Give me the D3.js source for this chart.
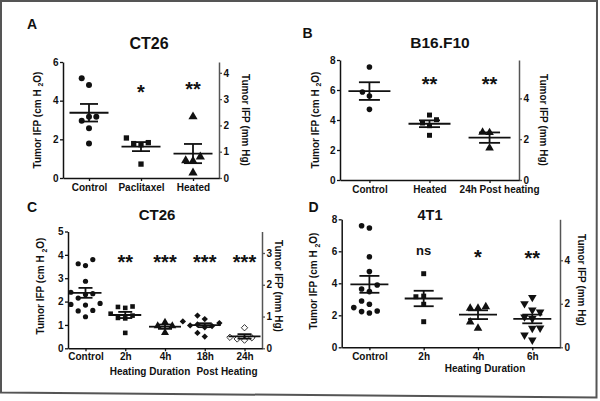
<!DOCTYPE html>
<html><head><meta charset="utf-8">
<script src="https://cdn.jsdelivr.net/npm/d3@7"></script>
<style>
body{margin:0;background:#fff;}
svg{display:block;font-family:"Liberation Sans",Arial,sans-serif;}
</style>
</head><body>
<svg id="chart" width="600" height="401"></svg>
<script>
// ---------------- DATA (cm H2O) ----------------
const A_categories = ["Control", "Paclitaxel", "Heated"];
const A_control = [5.16, 4.81, 3.17, 3.17, 2.96, 2.57, 1.79];
const A_paclitaxel = [2.07, 1.83, 1.78, 1.72, 0.72];
const A_heated = [3.17, 1.10, 0.90, 0.88, 0.27];
const A_significance = ["", "*", "**"];
const A_leftTicks = [0, 2, 4, 6];
const A_rightTicks = [0, 1, 2, 3, 4];

const B_categories = ["Control", "Heated", "24h Post heating"];
const B_control = [7.53, 5.87, 5.60, 4.71];
const B_heated = [4.33, 4.02, 3.80, 3.62, 2.98];
const B_post24h = [3.18, 3.16, 2.13];
const B_significance = ["", "**", "**"];
const B_leftTicks = [0, 2, 4, 6, 8];
const B_rightTicks = [0, 2, 4];

const C_categories = ["Control", "2h", "4h", "18h", "24h"];
const C_control = [3.80, 3.62, 3.54, 2.87, 2.40, 2.34, 2.30, 2.15, 1.92, 1.88, 1.85, 1.62, 1.60, 1.35];
const C_2h = [1.79, 1.77, 1.73, 1.48, 1.40, 1.30, 1.28, 0.66];
const C_4h = [1.11, 0.96, 0.96, 0.67];
const C_18h = [1.40, 1.25, 1.15, 1.08, 1.02, 0.98, 0.95, 0.90, 0.66, 0.50];
const C_24h = [0.88, 0.47, 0.45, 0.40, 0.35];
const C_significance = ["", "**", "***", "***", "***"];
const C_leftTicks = [0, 1, 2, 3, 4, 5];
const C_rightTicks = [0, 1, 2, 3];
const C_notes = ["Heating Duration", "Post Heating"];

const D_categories = ["Control", "2h", "4h", "6h"];
const D_control = [7.60, 7.46, 5.66, 4.73, 3.89, 3.64, 3.48, 2.89, 2.69, 2.48, 2.27, 2.23, 2.14];
const D_2h = [4.60, 3.20, 3.16, 2.69, 1.60];
const D_4h = [2.54, 2.44, 2.44, 1.58, 1.19];
const D_6h = [3.12, 2.73, 2.33, 2.20, 1.90, 1.80, 1.21, 1.19, 0.77, 0.46];
const D_significance = ["", "ns", "*", "**"];
const D_leftTicks = [0, 2, 4, 6, 8];
const D_rightTicks = [0, 2, 4];
const D_notes = ["Heating Duration"];

const CMH2O_PER_MMHG = 1.36;

// ---------------- LAYOUT ----------------
const panels = [
  { letter: "A", title: "CT26", cats: A_categories, groups: [A_control, A_paclitaxel, A_heated],
    sig: A_significance, lt: A_leftTicks, rt: A_rightTicks, yMax: 6,
    x0: 63, x1: 219, y0: 178, y1: 62, pad: 0.5,
    shapes: ["circle", "square", "triangle"], r: 3.0, col: 7.3, gap: 8,
    meanHalf: 19.5, capHalf: 9,
    letterPos: [32, 29], titlePos: [149, 49], titleSize: 16,
    leftLab: [37, 120], rightLab: [245.5, 120], catY: 190.5, catDx: [0, 0, 0],
    sigPos: [87.3, 87.3, 85], notes: [] },
  { letter: "B", title: "B16.F10", cats: B_categories, groups: [B_control, B_heated, B_post24h],
    sig: B_significance, lt: B_leftTicks, rt: B_rightTicks, yMax: 8,
    x0: 340, x1: 519, y0: 180, y1: 60, pad: 0.49,
    shapes: ["circle", "square", "triangle"], r: 2.8, col: 7, gap: 8,
    meanHalf: 21, capHalf: 10.5,
    letterPos: [307.5, 37.5], titlePos: [440, 47.5], titleSize: 15.5,
    leftLab: [315, 120], rightLab: [543.5, 120], catY: 192.5, catDx: [0, 0, 9.5],
    sigPos: [79.3, 79.3, 79.3], notes: [] },
  { letter: "C", title: "CT26", cats: C_categories, groups: [C_control, C_2h, C_4h, C_18h, C_24h],
    sig: C_significance, lt: C_leftTicks, rt: C_rightTicks, yMax: 5,
    x0: 68, x1: 262, y0: 348.3, y1: 231.5, pad: 0.44,
    shapes: ["circle", "square", "triangle", "diamond", "openDiamond"], r: 2.6, col: 7.3, gap: 8,
    meanHalf: 16, capHalf: 7,
    letterPos: [32, 211.5], titlePos: [157, 220], titleSize: 15,
    leftLab: [40.5, 286], rightLab: [278, 286], catY: 360.5, catDx: [0, 0, 0, 0, 0],
    sigPos: [257.3, 257.3, 257.3, 257.3, 257.3],
    notes: C_notes, notePos: [[150, 374.5], [227, 374.5]] },
  { letter: "D", title: "4T1", cats: D_categories, groups: [D_control, D_2h, D_4h, D_6h],
    sig: D_significance, lt: D_leftTicks, rt: D_rightTicks, yMax: 8,
    x0: 341.7, x1: 560, y0: 347.3, y1: 219.3, pad: 0.51,
    shapes: ["circle", "square", "triangle", "triangleDown"], r: 2.8, col: 7.8, gap: 8,
    meanHalf: 19, capHalf: 10,
    letterPos: [313.5, 212], titlePos: [430, 220], titleSize: 14.5,
    leftLab: [313.5, 281], rightLab: [581.5, 280], catY: 360.5, catDx: [0, 0, 0, 0],
    sigPos: [253, 251, 252.7, 253.3],
    notes: D_notes, notePos: [[485, 371.5]] }
];

const svg = d3.select("#chart");
const INK = "#111";

// outer frame
svg.append("path")
  .attr("d", "M1,1 L597,1 L596.5,397.5 L1,392.5 Z")
  .attr("fill", "none").attr("stroke", "#555").attr("stroke-width", 2);

function swarmColumns(values, y, gap) {
  const idx = values.map((v, i) => i).sort((a, b) => values[a] - values[b]);
  const placed = [];
  const cols = new Array(values.length).fill(0);
  const order = [0, -1, 1, -2, 2, -3, 3];
  idx.forEach(i => {
    const py = y(values[i]);
    for (const c of order) {
      const hit = placed.some(p => p.c === c && Math.abs(p.y - py) < gap);
      if (!hit) { cols[i] = c; placed.push({ c, y: py }); break; }
    }
  });
  return cols;
}

function symbolPath(shape, r) {
  const area = Math.PI * r * r;
  if (shape === "circle") return d3.symbol(d3.symbolCircle, area)();
  if (shape === "square") return d3.symbol(d3.symbolSquare, area * 1.0)();
  if (shape === "triangle" || shape === "triangleDown") return d3.symbol(d3.symbolTriangle, area * 1.3)();
  return d3.symbol(d3.symbolSquare, area * 0.95)(); // diamond = rotated square
}
function symbolRot(shape) {
  if (shape === "triangleDown") return 180;
  if (shape === "diamond" || shape === "openDiamond") return 45;
  return 0;
}

function axisTitle(g, x, y, rot, main) {
  const t = g.append("text")
    .attr("transform", `translate(${x},${y}) rotate(${rot})`)
    .attr("text-anchor", "middle").attr("dy", "0.35em")
    .attr("font-size", 10).attr("font-weight", "bold").attr("fill", INK);
  if (main === "left") {
    t.append("tspan").text("Tumor IFP (cm H ");
    t.append("tspan").attr("font-size", 7).attr("dy", 2.5).text("2");
    t.append("tspan").attr("dy", -2.5).text("O)");
  } else {
    t.text("Tumor IFP (mm Hg)");
  }
}

panels.forEach(p => {
  const g = svg.append("g");
  const yL = d3.scaleLinear().domain([0, p.yMax]).range([p.y0, p.y1]);
  const yR = d3.scaleLinear().domain([0, p.yMax / CMH2O_PER_MMHG]).range([p.y0, p.y1]);
  const x = d3.scalePoint().domain(p.cats).range([p.x0, p.x1]).padding(p.pad);

  // axes
  const gl = g.append("g").attr("transform", `translate(${p.x0},0)`)
    .call(d3.axisLeft(yL).tickValues(p.lt).tickSize(3).tickSizeOuter(0).tickPadding(1.5).tickFormat(d3.format("d")));
  const gr = g.append("g").attr("transform", `translate(${p.x1},0)`)
    .call(d3.axisRight(yR).tickValues(p.rt).tickSize(3).tickSizeOuter(0).tickPadding(1.5).tickFormat(d3.format("d")));
  const gb = g.append("g").attr("transform", `translate(0,${p.y0})`)
    .call(d3.axisBottom(x).tickSize(3).tickSizeOuter(0).tickPadding(2));

  [gl, gr, gb].forEach(a => {
    a.selectAll("path.domain").attr("stroke", INK).attr("stroke-width", 1.5);
    a.selectAll(".tick line").attr("stroke", INK).attr("stroke-width", 1.3);
    a.selectAll("text").attr("font-family", "'Liberation Sans', Arial, sans-serif")
      .attr("font-size", 10).attr("font-weight", "bold").attr("fill", INK);
  });
  gr.select("path.domain").attr("stroke", "#555");
  gr.selectAll(".tick line").attr("stroke", "#555");
  gb.selectAll("text").attr("y", p.catY - p.y0).attr("dy", 0)
    .attr("x", (d, i) => p.catDx[i] || 0);

  // axis titles
  axisTitle(g, p.leftLab[0], p.leftLab[1], -90, "left");
  axisTitle(g, p.rightLab[0], p.rightLab[1], 90, "right");

  // letter & title
  g.append("text").attr("x", p.letterPos[0]).attr("y", p.letterPos[1])
    .attr("text-anchor", "middle").attr("font-size", 14).attr("font-weight", "bold").attr("fill", INK)
    .text(p.letter);
  g.append("text").attr("x", p.titlePos[0]).attr("y", p.titlePos[1])
    .attr("text-anchor", "middle").attr("font-size", p.titleSize).attr("font-weight", "bold").attr("fill", INK)
    .text(p.title);

  // notes under axis
  (p.notes || []).forEach((n, i) => {
    g.append("text").attr("x", p.notePos[i][0]).attr("y", p.notePos[i][1])
      .attr("text-anchor", "middle").attr("font-size", 10).attr("font-weight", "bold").attr("fill", INK)
      .text(n);
  });

  // groups
  p.groups.forEach((vals, gi) => {
    const cx = x(p.cats[gi]);
    const shape = p.shapes[gi];
    const cols = swarmColumns(vals, yL, p.gap);
    const path = symbolPath(shape, p.r);
    const rot = symbolRot(shape);
    g.append("g").selectAll("path").data(vals).join("path")
      .attr("d", path)
      .attr("transform", (d, i) => `translate(${cx + cols[i] * p.col},${yL(d)}) rotate(${rot})`)
      .attr("fill", shape === "openDiamond" ? "#fff" : INK)
      .attr("stroke", shape === "openDiamond" ? INK : "none")
      .attr("stroke-width", 0.8);

    const m = d3.mean(vals);
    const sem = d3.deviation(vals) / Math.sqrt(vals.length);
    const eb = g.append("g").attr("stroke", INK).attr("stroke-width", 1.8).attr("fill", "none");
    eb.append("line").attr("x1", cx - p.meanHalf).attr("x2", cx + p.meanHalf).attr("y1", yL(m)).attr("y2", yL(m));
    eb.append("line").attr("x1", cx).attr("x2", cx).attr("y1", yL(m - sem)).attr("y2", yL(m + sem));
    eb.append("line").attr("x1", cx - p.capHalf).attr("x2", cx + p.capHalf).attr("y1", yL(m + sem)).attr("y2", yL(m + sem));
    eb.append("line").attr("x1", cx - p.capHalf).attr("x2", cx + p.capHalf).attr("y1", yL(m - sem)).attr("y2", yL(m - sem));

    // significance marks
    const s = p.sig[gi];
    if (s) {
      const isNs = s === "ns";
      const fs = isNs ? 13 : 20;
      g.append("text").attr("x", cx).attr("y", p.sigPos[gi] + (isNs ? 3.6 : 11.4))
        .attr("text-anchor", "middle").attr("font-size", fs).attr("font-weight", "bold").attr("fill", INK)
        .text(s);
    }
  });
});
</script>
</body></html>
